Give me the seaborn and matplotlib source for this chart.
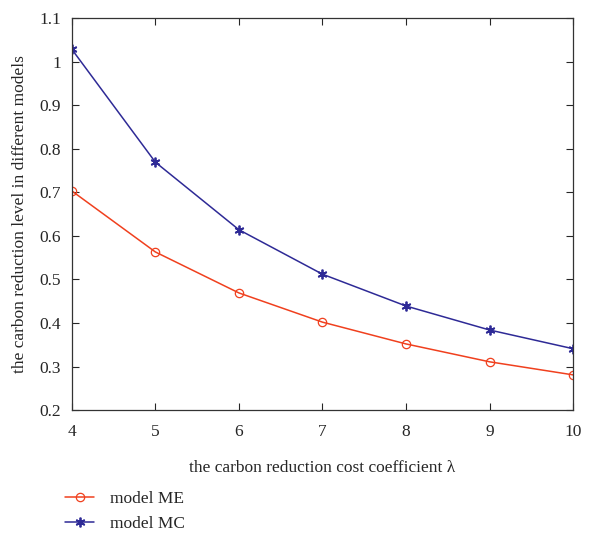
import matplotlib
matplotlib.use("Agg")
import matplotlib.pyplot as plt
import seaborn as sns
import pandas as pd

# datos
lam = [4, 5, 6, 7, 8, 9, 10]
model_me = [0.703, 0.563, 0.469, 0.402, 0.352, 0.311, 0.281]
model_mc = [1.028, 0.769, 0.614, 0.512, 0.439, 0.384, 0.341]
series_names = ["model ME", "model MC"]
y_ticks = [0.2, 0.3, 0.4, 0.5, 0.6, 0.7, 0.8, 0.9, 1.0, 1.1]
y_tick_labels = ["0.2", "0.3", "0.4", "0.5", "0.6", "0.7", "0.8", "0.9", "1", "1.1"]

df = pd.DataFrame({
    "lam": lam * 2,
    "value": model_me + model_mc,
    "model": [series_names[0]] * len(lam) + [series_names[1]] * len(lam),
})

sns.set_style("ticks")
plt.rcParams["font.family"] = ["Liberation Serif", "DejaVu Serif"]

fig = plt.figure(figsize=(5.89, 5.44), dpi=100)
ax = fig.add_axes([0.122, 0.246, 0.851, 0.721])

colores = {"model ME": "#f0401e", "model MC": "#2e2a96"}

for nombre in series_names:
    sub = df[df["model"] == nombre]
    if nombre == "model ME":
        sns.lineplot(data=sub, x="lam", y="value", ax=ax, color=colores[nombre],
                     marker="o", markersize=6, markerfacecolor="none",
                     markeredgecolor=colores[nombre], markeredgewidth=0.9,
                     linewidth=1.1, label=nombre)
    else:
        # asterisco tipo MATLAB
        sns.lineplot(data=sub, x="lam", y="value", ax=ax, color=colores[nombre],
                     marker=(6, 2, 0), markersize=7, markeredgewidth=1.3,
                     markeredgecolor=colores[nombre], linewidth=1.1, label=nombre)

ax.set_xlim(4, 10)
ax.set_ylim(0.2, 1.1)
ax.set_xticks(lam)
ax.set_yticks(y_ticks)
ax.set_yticklabels(y_tick_labels)
ax.tick_params(direction="in", top=True, right=True, labelsize=12.5, length=5, width=0.8)
ax.tick_params(axis="x", pad=10)
ax.tick_params(axis="y", pad=8)
for s in ax.spines.values():
    s.set_linewidth(0.9)
    s.set_color("#333333")

ax.set_xlabel("the carbon reduction cost coefficient λ", fontsize=12.5, labelpad=14)
ax.set_ylabel("the carbon reduction level in different models", fontsize=12.5, labelpad=8)

ax.legend(loc="upper left", bbox_to_anchor=(-0.045, -0.165), frameon=False,
          fontsize=12.5, handlelength=1.7, handletextpad=0.9, labelspacing=0.55)

plt.savefig("out.png", dpi=100)
